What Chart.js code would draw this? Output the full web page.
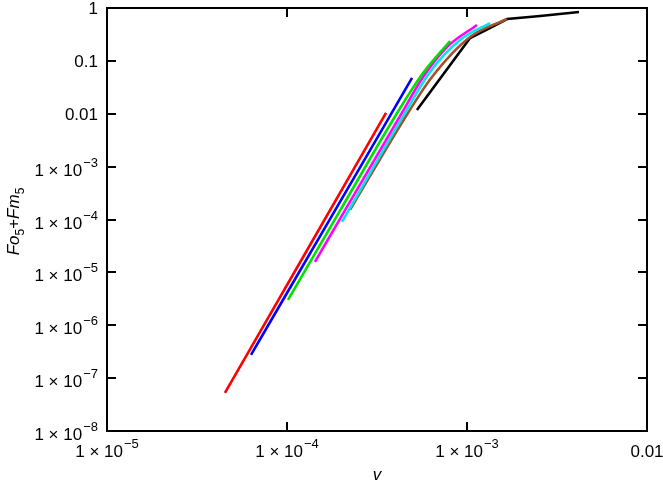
<!DOCTYPE html>
<html>
<head>
<meta charset="utf-8">
<script src="https://cdn.jsdelivr.net/npm/chart.js@4.4.0/dist/chart.umd.min.js"></script>
<style>
  body { margin: 0; background: #fff; }
  #chartCanvas { display: block; }
</style>
</head>
<body>
<canvas id="chartCanvas" width="663" height="483"></canvas>
<script>
// axis ticks (decades) and their labels: [mantissa part, exponent]
var xTicks = [1e-5, 1e-4, 1e-3, 1e-2];
var xTickLabels = [["1 × 10", "−5"], ["1 × 10", "−4"], ["1 × 10", "−3"], ["0.01", ""]];
var yTicks = [1e-8, 1e-7, 1e-6, 1e-5, 1e-4, 1e-3, 1e-2, 1e-1, 1];
var yTickLabels = [["1 × 10", "−8"], ["1 × 10", "−7"], ["1 × 10", "−6"], ["1 × 10", "−5"],
                   ["1 × 10", "−4"], ["1 × 10", "−3"], ["0.01", ""], ["0.1", ""], ["1", ""]];

// series: v values and Fo5+Fm5 values
var redV = [4.52e-5, 1.259e-4, 3.55e-4];
var redF = [5.27e-8, 2.25e-5, 1.035e-2];

var blueV = [6.31e-5, 1.733e-4, 4.95e-4];
var blueF = [2.75e-7, 1.02e-4, 4.75e-2];

var greenV = [1.013e-4, 1.97e-4, 4.09e-4, 5.70e-4, 8.05e-4];
var greenF = [3.02e-6, 1.47e-4, 1.035e-2, 5.9e-2, 0.238];

var magentaV = [1.43e-4, 4.35e-4, 5.70e-4, 7.74e-4, 1.136e-3];
var magentaF = [1.58e-5, 1.035e-2, 4.96e-2, 0.183, 0.477];

var cyanV = [2.02e-4, 4.53e-4, 6.23e-4, 9.14e-4, 1.343e-3];
var cyanF = [9.0e-5, 1.035e-2, 6.17e-2, 0.248, 0.52];

var brownV = [2.24e-4, 4.70e-4, 6.39e-4, 1.04e-3, 1.668e-3];
var brownF = [1.52e-4, 1.035e-2, 4.96e-2, 0.283, 0.62];

var blackV = [5.27e-4, 1.04e-3, 1.34e-3, 1.67e-3, 2.55e-3, 4.19e-3];
var blackF = [1.18e-2, 0.271, 0.419, 0.62, 0.706, 0.84];

function toPoints(xs, ys) {
    var pts = [];
    for (var i = 0; i < xs.length; i++) {
        pts.push({ x: xs[i], y: ys[i] });
    }
    return pts;
}

function series(xs, ys, color, smooth) {
    return {
        data: toPoints(xs, ys),
        borderColor: color,
        backgroundColor: color,
        borderWidth: 2.6,
        pointRadius: 0,
        showLine: true,
        cubicInterpolationMode: smooth ? "monotone" : "default",
        tension: 0
    };
}

var FONT = "'Liberation Sans', Arial, sans-serif";

// label with a superscript exponent
function drawPow(ctx, parts, x, baseY, align) {
    ctx.font = "17px " + FONT;
    var wb = ctx.measureText(parts[0]).width;
    ctx.font = "13px " + FONT;
    var we = parts[1] ? ctx.measureText(parts[1]).width + 1 : 0;
    var total = wb + we;
    var start = align == "right" ? x - total : x - total / 2;
    ctx.textAlign = "left";
    ctx.textBaseline = "alphabetic";
    ctx.font = "17px " + FONT;
    ctx.fillText(parts[0], start, baseY);
    if (parts[1]) {
        ctx.font = "13px " + FONT;
        ctx.fillText(parts[1], start + wb + 1, baseY - 9);
    }
}

var framePlugin = {
    id: "frame",
    afterDraw: function(chart) {
        var ctx = chart.ctx;
        var a = chart.chartArea;
        var xs = chart.scales.x;
        var ys = chart.scales.y;
        var i, p;
        ctx.save();
        ctx.strokeStyle = "#000";
        ctx.fillStyle = "#000";
        ctx.lineWidth = 2;
        ctx.strokeRect(a.left, a.top, a.right - a.left, a.bottom - a.top);

        // inward ticks on all four sides
        ctx.beginPath();
        for (i = 0; i < xTicks.length; i++) {
            p = Math.round(xs.getPixelForValue(xTicks[i]));
            ctx.moveTo(p, a.bottom); ctx.lineTo(p, a.bottom - 9);
            ctx.moveTo(p, a.top); ctx.lineTo(p, a.top + 9);
        }
        for (i = 0; i < yTicks.length; i++) {
            p = Math.round(ys.getPixelForValue(yTicks[i]));
            ctx.moveTo(a.left, p); ctx.lineTo(a.left + 9, p);
            ctx.moveTo(a.right, p); ctx.lineTo(a.right - 9, p);
        }
        ctx.stroke();

        // tick labels
        for (i = 0; i < xTicks.length; i++) {
            p = xs.getPixelForValue(xTicks[i]);
            drawPow(ctx, xTickLabels[i], p, a.bottom + 26, "center");
        }
        for (i = 0; i < yTicks.length; i++) {
            p = ys.getPixelForValue(yTicks[i]);
            drawPow(ctx, yTickLabels[i], a.left - 9, p + (yTickLabels[i][1] ? 9 : 6), "right");
        }

        // x title
        ctx.font = "italic 17px " + FONT;
        ctx.textAlign = "center";
        ctx.fillText("v", (a.left + a.right) / 2, 480);

        // y title Fo5+Fm5, rotated
        ctx.translate(19, (a.top + a.bottom) / 2 + 2);
        ctx.rotate(-Math.PI / 2);
        var pieces = [["Fo", "italic 17px "], ["5", "12px ", 5], ["+", "17px "], ["Fm", "italic 17px "], ["5", "12px ", 5]];
        var w = 0;
        for (i = 0; i < pieces.length; i++) {
            ctx.font = pieces[i][1] + FONT;
            w += ctx.measureText(pieces[i][0]).width;
        }
        var cx = -w / 2;
        ctx.textAlign = "left";
        for (i = 0; i < pieces.length; i++) {
            ctx.font = pieces[i][1] + FONT;
            ctx.fillText(pieces[i][0], cx, pieces[i][2] || 0);
            cx += ctx.measureText(pieces[i][0]).width;
        }
        ctx.restore();
    }
};

var ctx = document.getElementById("chartCanvas");
var lineChart = new Chart(ctx, {
    type: "scatter",
    data: {
        datasets: [
            series(redV, redF, "#ff0000", true),
            series(blueV, blueF, "#0000ff", true),
            series(greenV, greenF, "#00e000", true),
            series(magentaV, magentaF, "#ff00ff", true),
            series(cyanV, cyanF, "#00e5ee", true),
            series(brownV, brownF, "#a0522d", true),
            series(blackV, blackF, "#000000", false)
        ]
    },
    options: {
        responsive: false,
        animation: false,
        devicePixelRatio: 1,
        layout: { padding: { top: 8, right: 16, left: 0, bottom: 0 } },
        plugins: {
            legend: { display: false },
            tooltip: { enabled: false }
        },
        scales: {
            x: {
                type: "logarithmic",
                min: 1e-5,
                max: 1e-2,
                grid: { display: false },
                border: { display: false },
                ticks: { display: false },
                afterBuildTicks: function(scale) {
                    scale.ticks = xTicks.map(function(v) { return { value: v }; });
                },
                afterFit: function(scale) { scale.height = 52; }
            },
            y: {
                type: "logarithmic",
                min: 1e-8,
                max: 1,
                grid: { display: false },
                border: { display: false },
                ticks: { display: false },
                afterBuildTicks: function(scale) {
                    scale.ticks = yTicks.map(function(v) { return { value: v }; });
                },
                afterFit: function(scale) { scale.width = 107; }
            }
        }
    },
    plugins: [framePlugin]
});
</script>
</body>
</html>
